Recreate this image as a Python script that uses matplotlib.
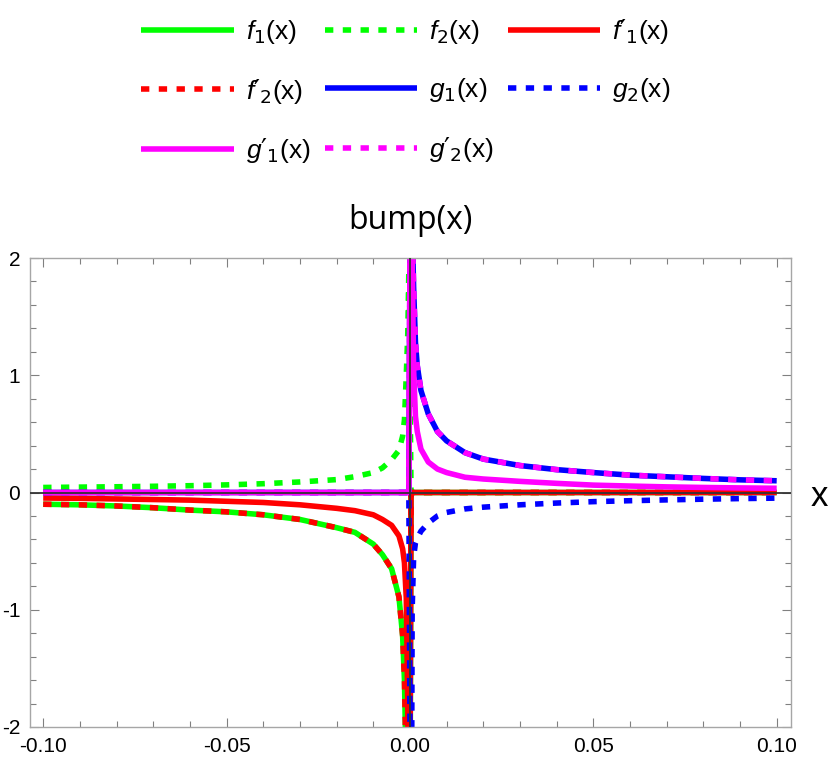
import numpy as np
import matplotlib
matplotlib.use('Agg')
import matplotlib.pyplot as plt
from matplotlib.axes import Axes
from matplotlib.ticker import MultipleLocator, FormatStrFormatter

plt.rcParams['font.family'] = ['Liberation Sans', 'DejaVu Sans']
plt.rcParams['mathtext.fontset'] = 'custom'
plt.rcParams['mathtext.rm'] = 'DejaVu Sans'
plt.rcParams['mathtext.it'] = 'Liberation Sans:italic'
plt.rcParams['axes.unicode_minus'] = False

# |x| sample points, used on both sides of 0
x_abs = [0.0003, 0.0006, 0.001, 0.0015, 0.002, 0.003, 0.005, 0.0075, 0.01, 0.015,
         0.02, 0.03, 0.04, 0.05, 0.06, 0.07, 0.08, 0.09, 0.1]

# f-curves live on x < 0 (values at x = -x_abs), zero for x > 0
f1_left = [-6.0, -3.5, -2.4, -1.6, -1.22, -0.89, -0.65, -0.53, -0.44, -0.34,
           -0.30, -0.23, -0.19, -0.165, -0.15, -0.13, -0.115, -0.105, -0.10]
f2_left = [1.9, 1.35, 1.0, 0.62, 0.48, 0.36, 0.28, 0.21, 0.17, 0.135,
           0.11, 0.09, 0.075, 0.065, 0.058, 0.053, 0.049, 0.046, 0.043]
f1p_left = [-5.0, -1.8, -0.9, -0.6, -0.48, -0.37, -0.28, -0.23, -0.19, -0.155,
            -0.135, -0.105, -0.085, -0.075, -0.065, -0.06, -0.055, -0.05, -0.047]
f2p_left = [-6.0, -3.5, -2.4, -1.6, -1.22, -0.89, -0.65, -0.53, -0.44, -0.34,
            -0.30, -0.23, -0.19, -0.165, -0.15, -0.13, -0.115, -0.105, -0.10]

# g-curves live on x > 0, zero for x < 0
g1_right = [4.0, 2.3, 1.75, 1.28, 1.08, 0.87, 0.67, 0.52, 0.44, 0.34,
            0.285, 0.23, 0.195, 0.17, 0.148, 0.134, 0.12, 0.108, 0.10]
g2_right = [-4.0, -1.0, -0.55, -0.43, -0.39, -0.33, -0.26, -0.20, -0.17, -0.14,
            -0.125, -0.105, -0.09, -0.078, -0.07, -0.063, -0.057, -0.052, -0.048]
g1p_right = [4.0, 2.0, 1.05, 0.65, 0.52, 0.37, 0.26, 0.20, 0.17, 0.13,
             0.115, 0.095, 0.078, 0.063, 0.055, 0.048, 0.043, 0.039, 0.036]
g2p_right = [4.0, 2.3, 1.75, 1.28, 1.08, 0.87, 0.67, 0.52, 0.44, 0.34,
             0.285, 0.23, 0.195, 0.17, 0.148, 0.134, 0.12, 0.108, 0.10]

labels = [r'$f_1$(x)', r'$f_2$(x)', r'$f\prime_1$(x)', r'$f\prime_2$(x)',
          r'$g_1$(x)', r'$g_2$(x)', r'$g\prime_1$(x)', r'$g\prime_2$(x)']
colors = ['#00ff00', '#00ff00', '#ff0000', '#ff0000',
          '#0000ff', '#0000ff', '#ff00ff', '#ff00ff']
dashed = [False, True, False, True, False, True, False, True]


def full_curve(values: list, left: bool = True):
    xa = np.array(x_abs)
    v = np.array(values)
    xs = np.concatenate([-xa[::-1], xa])
    if left:
        ys = np.concatenate([v[::-1], np.zeros_like(v)])
    else:
        ys = np.concatenate([np.zeros_like(v), v])
    return xs, ys


def plot_curves(ax: Axes):
    series = [(f1_left, True), (f2_left, True), (f1p_left, True), (f2p_left, True),
              (g1_right, False), (g2_right, False), (g1p_right, False), (g2p_right, False)]
    lines = []
    for (values, left), label, color, dash in zip(series, labels, colors, dashed):
        xs, ys = full_curve(values, left)
        line, = ax.plot(xs, ys, color=color, lw=4, label=label, solid_capstyle='butt')
        if dash:
            line.set_dashes((1.5, 1.7))
        lines.append(line)
    return lines


def style_axes(ax: Axes):
    ax.set_xlim(-0.1036, 0.1039)
    ax.set_ylim(-2, 2)
    ax.xaxis.set_major_locator(MultipleLocator(0.05))
    ax.xaxis.set_minor_locator(MultipleLocator(0.01))
    ax.yaxis.set_major_locator(MultipleLocator(1))
    ax.yaxis.set_minor_locator(MultipleLocator(0.2))
    ax.xaxis.set_major_formatter(FormatStrFormatter('%.2f'))
    ax.yaxis.set_major_formatter(FormatStrFormatter('%d'))
    ax.tick_params(which='both', direction='in', top=True, right=True,
                   color='#808080', width=0.8, labelsize=15)
    ax.tick_params(which='major', length=6.5)
    ax.tick_params(which='minor', length=4)
    ax.tick_params(axis='x', pad=7)
    ax.tick_params(axis='y', pad=7)
    for s in ax.spines.values():
        s.set_color('#a6a6a6')
        s.set_linewidth(1.0)
    ax.axhline(0, color='#333333', lw=1.3, zorder=5)
    ax.axvline(0, color='#333333', lw=1.3, zorder=5)
    ax.annotate('bump(x)', xy=(0, 1), xycoords=('data', 'axes fraction'),
                xytext=(0, 21), textcoords='offset points',
                ha='center', va='baseline', fontsize=23, family='Open Sans')
    ax.annotate('x', xy=(1, 0), xycoords=('axes fraction', 'data'),
                xytext=(14, -3), textcoords='offset points',
                ha='left', va='center', fontsize=25)


fig = plt.figure(figsize=(8.3, 7.63), dpi=100)
ax = fig.add_axes([30 / 830, 36 / 763, 761 / 830, 469 / 763])
lines = plot_curves(ax)
style_axes(ax)
# legend fills column by column, so feed it in that order to get rows like the original
order = [0, 3, 6, 1, 4, 7, 2, 5]
fig.legend([lines[i] for i in order], [labels[i] for i in order],
           loc='center', bbox_to_anchor=(406 / 830, 1 - 91 / 763), ncol=3,
           frameon=False, fontsize=19, handlelength=3.5, handletextpad=0.45,
           columnspacing=0.55, labelspacing=1.15)
fig.savefig('out.png', dpi=100)
